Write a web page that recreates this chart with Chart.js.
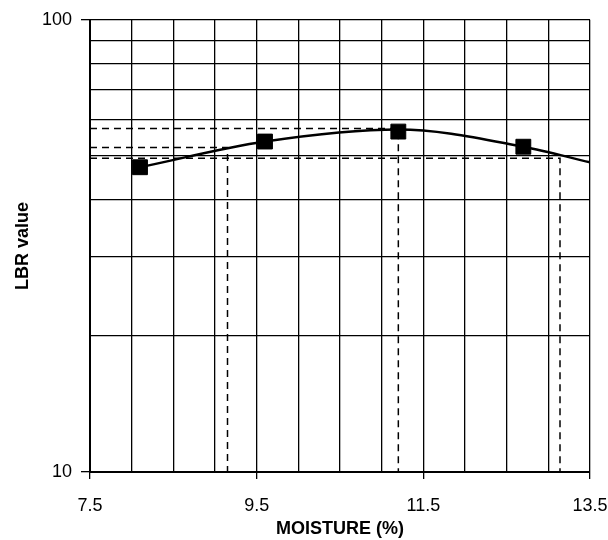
<!DOCTYPE html>
<html>
<head>
<meta charset="utf-8">
<script src="https://cdn.jsdelivr.net/npm/chart.js@4"></script>
<style>
  html, body { margin: 0; padding: 0; background: #fff; }
  #wrap { width: 608px; height: 540px; }
</style>
</head>
<body>
<div id="wrap"><canvas id="lbrChart" width="608" height="540"></canvas></div>
<script>
// measured points (moisture %, LBR)
const moisture = [8.1, 9.6, 11.2, 12.7];
const lbr = [47.2, 53.8, 56.6, 52.4];

// smooth fitted curve
const curveX = [8.1, 9.6, 11.2, 12.7, 13.5];
const curveY = [47.2, 53.8, 57.2, 52.4, 48.4];

// dashed construction lines
const maxLine = { x: [7.5, 11.2, 11.2], y: [57.5, 57.5, 10] };
const leftLine = { x: [7.5, 9.15, 9.15], y: [52.2, 52.2, 10] };
const rightLine = { x: [7.5, 13.14, 13.14], y: [49.4, 49.4, 10] };

// axis ticks
const xGridTicks = [7.5, 8, 8.5, 9, 9.5, 10, 10.5, 11, 11.5, 12, 12.5, 13, 13.5];
const xLabelTicks = [7.5, 9.5, 11.5, 13.5];
const yGridTicks = [10, 20, 30, 40, 50, 60, 70, 80, 90, 100];
const yLabelTicks = [10, 100];

const toPts = (xs, ys) => xs.map((x, i) => ({ x: x, y: ys[i] }));

const dashed = (line) => ({
    type: 'line',
    data: toPts(line.x, line.y),
    borderColor: '#000',
    borderWidth: 1.5,
    borderDash: [7, 5],
    pointRadius: 0,
    tension: 0,
    fill: false
});

const ctx = document.getElementById('lbrChart').getContext('2d');
new Chart(ctx, {
    type: 'scatter',
    data: {
        datasets: [
            {
                data: toPts(moisture, lbr),
                pointStyle: 'rect',
                pointRadius: 10.5,
                backgroundColor: '#000',
                borderColor: '#000',
                showLine: false
            },
            {
                type: 'line',
                data: toPts(curveX, curveY),
                borderColor: '#000',
                borderWidth: 2.5,
                pointRadius: 0,
                cubicInterpolationMode: 'monotone',
                fill: false
            },
            dashed(maxLine),
            dashed(leftLine),
            dashed(rightLine)
        ]
    },
    options: {
        responsive: false,
        animation: false,
        layout: { padding: { top: 19, right: 0, left: 0, bottom: 0 } },
        plugins: { legend: { display: false }, tooltip: { enabled: false } },
        scales: {
            x: {
                type: 'linear',
                min: 7.5,
                max: 13.5,
                afterBuildTicks: (scale) => { scale.ticks = xGridTicks.map(v => ({ value: v })); },
                afterFit: (scale) => { scale.height = 68; scale.paddingRight = 18; scale.paddingLeft = 0; },
                border: { color: '#000', width: 2 },
                grid: {
                    color: '#000',
                    lineWidth: 1.3,
                    tickLength: 7,
                    tickColor: (c) => xLabelTicks.includes(c.tick && c.tick.value) ? '#000' : 'rgba(0,0,0,0)'
                },
                ticks: {
                    color: '#000',
                    padding: 16,
                    maxRotation: 0,
                    autoSkip: false,
                    font: { family: 'Liberation Sans, Arial, sans-serif', size: 18 },
                    callback: (v) => xLabelTicks.includes(v) ? v.toFixed(1) : ''
                },
                title: {
                    display: true,
                    text: 'MOISTURE (%)',
                    color: '#000',
                    font: { family: 'Liberation Sans, Arial, sans-serif', size: 18, weight: 'bold' },
                    padding: { top: 0, bottom: 0 }
                }
            },
            y: {
                type: 'logarithmic',
                min: 10,
                max: 100,
                afterBuildTicks: (scale) => { scale.ticks = yGridTicks.map(v => ({ value: v })); },
                afterFit: (scale) => { scale.width = 90; },
                border: { color: '#000', width: 2 },
                grid: {
                    color: '#000',
                    lineWidth: 1.3,
                    tickLength: 9,
                    tickColor: (c) => yLabelTicks.includes(c.tick && c.tick.value) ? '#000' : 'rgba(0,0,0,0)'
                },
                ticks: {
                    color: '#000',
                    padding: 9,
                    autoSkip: false,
                    font: { family: 'Liberation Sans, Arial, sans-serif', size: 18 },
                    callback: (v) => yLabelTicks.includes(v) ? String(v) : ''
                },
                title: {
                    display: true,
                    text: 'LBR value',
                    color: '#000',
                    font: { family: 'Liberation Sans, Arial, sans-serif', size: 18, weight: 'bold' },
                    padding: { top: 12, bottom: 0 }
                }
            }
        }
    }
});
</script>
</body>
</html>
